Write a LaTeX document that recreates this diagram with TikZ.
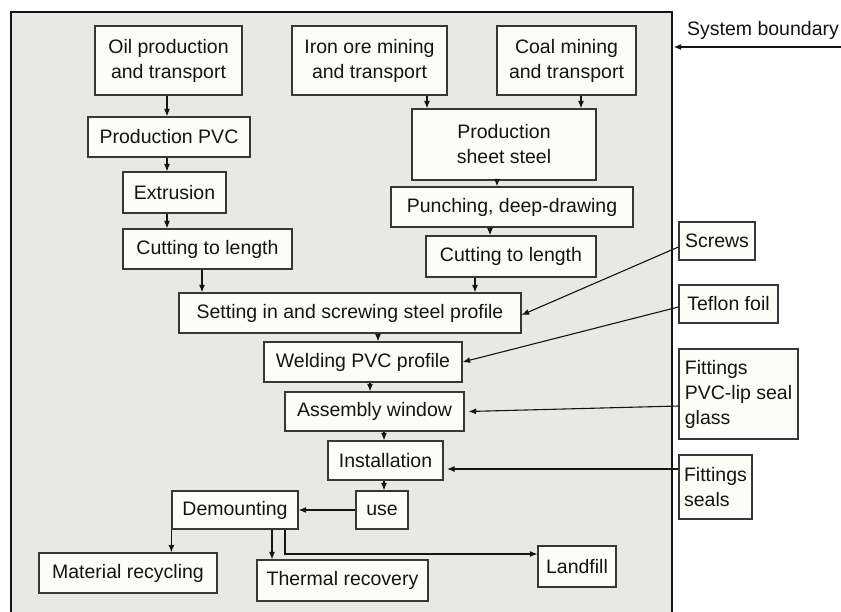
\documentclass[tikz,border=0pt]{standalone}
\usepackage{fontspec}
\setmainfont{Liberation Sans}
\usetikzlibrary{arrows.meta}
\definecolor{bgfill}{HTML}{E8E8E4}
\definecolor{boxfill}{HTML}{FDFDF8}
\definecolor{ink}{HTML}{141414}
\newcommand\mybx[7][]{%
 \pgfmathsetmacro\bxw{#5-#3}\pgfmathsetmacro\bxh{#6-#4}%
 \pgfmathsetmacro\bxx{(#3+#5)/2}\pgfmathsetmacro\bxy{(#4+#6)/2}%
 \node[box,minimum width=\bxw pt,minimum height=\bxh pt,#1] (#2) at (\bxx,\bxy) {#7};}
\tikzset{
 box/.style={draw=ink!85,fill=boxfill,line width=1.2pt,inner sep=0pt,text=ink,
   font=\fontsize{19.5}{25}\selectfont,align=center},
 arr/.style={draw=ink,line width=1.1pt,-{Latex[length=7.5pt,width=6pt]}},
}
\begin{document}
\begin{tikzpicture}[x=1pt,y=-1pt]
\useasboundingbox (0,0) rectangle (841,612);
\clip (0,0) rectangle (841,612);
\fill[bgfill] (11,12) rectangle (672,640);
\draw[ink,line width=2.8pt] (11,640) -- (11,12) -- (672,12) -- (672,640);
% system boundary
\node[anchor=base,text=ink,font=\fontsize{19.5}{25}\selectfont] (sbt) at (763,36) {System boundary};
\coordinate (sbR) at (841,47);
\coordinate (sbL) at (673.5,47);
\draw[arr,line width=1.8pt] (sbR) -- (sbL);
% boxes
\mybx{oil}{95}{26}{242}{95}{Oil production\\and transport}
\mybx{pvc}{88}{117}{250}{157}{Production PVC}
\mybx{extr}{123}{172}{226}{213}{Extrusion}
\mybx{cutL}{123}{229}{292}{269}{Cutting to length}
\mybx{iron}{292}{26}{447}{95}{Iron ore mining\\and transport}
\mybx{coal}{497}{26}{636}{95}{Coal mining\\and transport}
\mybx{steel}{412}{109}{596}{180}{Production\\sheet steel}
\mybx{punch}{391}{187}{633}{227}{Punching, deep-drawing}
\mybx{cutR}{426}{236}{596}{277}{Cutting to length}
\mybx{set}{179}{293}{521}{333}{Setting in and screwing steel profile}
\mybx{weld}{264}{342}{462}{382}{Welding PVC profile}
\mybx{asm}{285}{392}{464}{431}{Assembly window}
\mybx{inst}{328}{441}{443}{480}{Installation}
\mybx{use}{356}{491}{408}{529}{use}
\mybx{dem}{172}{491}{298}{529}{Demounting}
\mybx{mat}{39}{553}{217}{593}{Material recycling}
\mybx{therm}{257}{560}{428}{601}{Thermal recovery}
\mybx{land}{538}{546}{616}{587}{Landfill}
\mybx{screws}{679}{222}{755}{260}{Screws}
\mybx{teflon}{679}{285}{778}{323}{Teflon foil}
\mybx[align=left]{fit}{679}{349}{798}{439}{Fittings\\PVC-lip seal\\glass}
\mybx[align=left]{seals}{679}{455}{752}{519}{Fittings\\seals}
% connectors
\draw[arr] (oil.south -| 167,0) -- (pvc.north -| 167,0);
\draw[arr] (pvc.south -| 167,0) -- (extr.north -| 167,0);
\draw[arr] (extr.south -| 167,0) -- (cutL.north -| 167,0);
\draw[arr] (cutL.south -| 202,0) -- (set.north -| 202,0);
\draw[arr] (iron.south -| 427,0) -- (steel.north -| 427,0);
\draw[arr] (coal.south -| 581,0) -- (steel.north -| 581,0);
\draw[arr] (steel.south -| 497,0) -- (punch.north -| 497,0);
\draw[arr] (punch.south -| 490,0) -- (cutR.north -| 490,0);
\draw[arr] (cutR.south -| 475,0) -- (set.north -| 475,0);
\draw[arr] (set.south -| 378,0) -- (weld.north -| 378,0);
\draw[arr] (weld.south -| 370,0) -- (asm.north -| 370,0);
\draw[arr] (asm.south -| 384,0) -- (inst.north -| 384,0);
\draw[arr] (inst.south -| 384,0) -- (use.north -| 384,0);
\draw[arr] (use.west) -- (dem.east);
\draw[arr] (dem.south west) -- (dem.south west |- mat.north);
\draw[arr] (dem.south -| 272,0) -- (therm.north -| 272,0);
\draw[arr] (dem.south -| 285,0) |- ([yshift=12.5pt]land.west);
\draw[arr] ([yshift=-6pt]screws.west) -- ([yshift=-2pt]set.east);
\draw[arr] ([yshift=-3pt]teflon.west) -- (weld.east);
\draw[arr] ([yshift=-12pt]fit.west) -- ([xshift=4pt]asm.east);
\coordinate (sealsA) at ([yshift=18pt]seals.west);
\draw[arr] (sealsA) -- (sealsA -| 447,0);
\end{tikzpicture}
\end{document}
